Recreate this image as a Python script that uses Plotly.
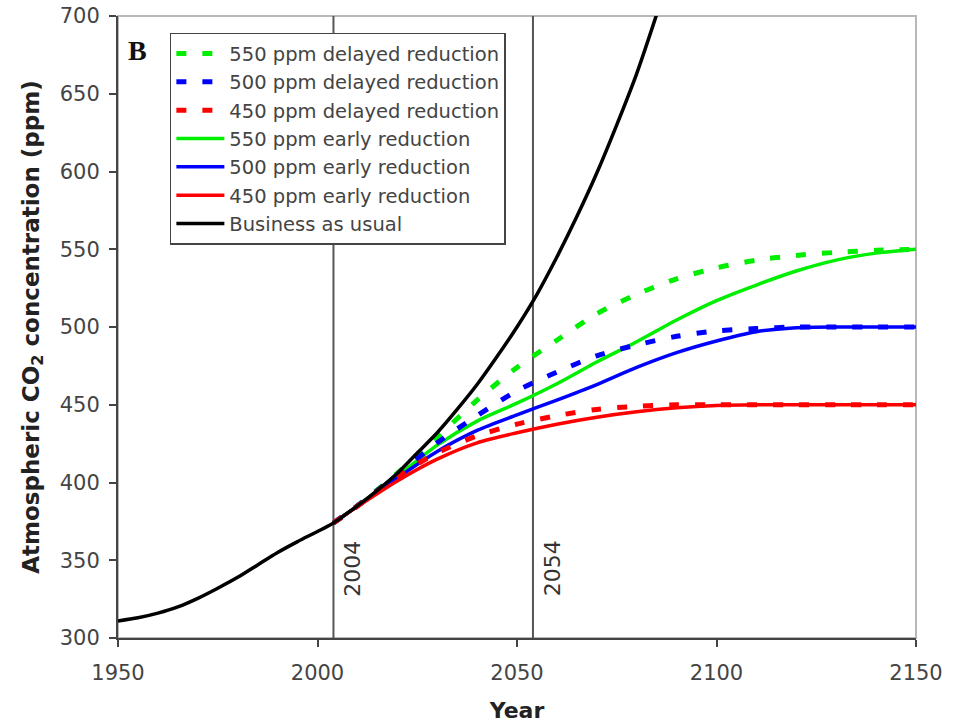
import plotly.graph_objects as go

# ---- data ----
bau_years = [1950, 1955, 1960, 1965, 1970, 1975, 1980, 1985, 1990, 1995, 2000, 2004,
             2010, 2015, 2020, 2025, 2030, 2035, 2040, 2045, 2050, 2055, 2060, 2065,
             2070, 2075, 2080, 2085, 2090]
bau_ppm = [311, 313, 316, 320, 325.5, 332, 339, 347, 355, 362, 368.5, 374,
           385, 395, 406, 419, 432, 447, 463, 481, 500, 521, 545, 571,
           599, 630, 663, 701, 741]

scen_years = [2004, 2010, 2020, 2030, 2040, 2050, 2060, 2070, 2080, 2090, 2100,
              2110, 2120, 2130, 2140, 2150]
red_early = [374, 384.5, 401, 415, 425.5, 432, 437.5, 442, 445.5, 448, 449.5, 450, 450, 450, 450, 450]
red_delayed = [374, 384.8, 404, 419, 430, 437.5, 443, 447, 449, 450, 450, 450, 450, 450, 450, 450]
blue_early = [374, 384.8, 403, 420, 433.5, 443.5, 453, 463, 474, 483.5, 491, 497, 499.5, 500, 500, 500]
blue_delayed = [374, 385, 405, 425.5, 443, 459, 471, 481.5, 488.5, 494, 497.5, 499, 500, 500, 500, 500]
green_early = [374, 385, 404, 424, 439.5, 451, 463.5, 477.5, 490.5, 504.5, 517, 527, 536, 543, 547.5, 550]
green_delayed = [374, 385, 406, 429, 453, 474, 491.5, 508.5, 521, 531, 538, 543, 546, 548, 549.3, 550]

marker_years = [2004, 2054]
x_ticks = [1950, 2000, 2050, 2100, 2150]
y_ticks = [300, 350, 400, 450, 500, 550, 600, 650, 700]

GREEN, BLUE, RED = "#00ee00", "#0000ff", "#ff0000"
DASH = "10px,16px"

fig = go.Figure()

def add(x, y, name, color, dash, width, rank):
    fig.add_trace(go.Scatter(
        x=x, y=y, name=name, mode="lines",
        line=dict(color=color, width=width, dash=dash, shape="spline", smoothing=0.8),
        legendrank=rank))

add(scen_years, green_early, "550 ppm early reduction", GREEN, "solid", 3.5, 4)
add(scen_years, blue_early, "500 ppm early reduction", BLUE, "solid", 3.5, 5)
add(scen_years, red_early, "450 ppm early reduction", RED, "solid", 3.5, 6)
add(scen_years, green_delayed, "550 ppm delayed reduction", GREEN, DASH, 5, 1)
add(scen_years, blue_delayed, "500 ppm delayed reduction", BLUE, DASH, 5, 2)
add(scen_years, red_delayed, "450 ppm delayed reduction", RED, DASH, 5, 3)
add(bau_years, bau_ppm, "Business as usual", "#000000", "solid", 3.5, 7)

shapes = [dict(type="rect", xref="paper", yref="paper", x0=0, x1=1, y0=0, y1=1,
               line=dict(color="#b8b8b8", width=2), layer="below")]
for yr in marker_years:
    shapes.append(dict(type="line", xref="x", yref="paper", x0=yr, x1=yr, y0=0, y1=1,
                       line=dict(color="#555555", width=2), layer="below"))

annotations = [dict(text="<b>B</b>", xref="paper", yref="paper", x=0.024, y=0.945,
                    xanchor="center", yanchor="middle",
                    showarrow=False, font=dict(family="Liberation Serif", size=28, color="#111"))]
for yr in marker_years:
    annotations.append(dict(text=str(yr), xref="x", yref="paper", x=yr, y=0.112,
                            xanchor="center", yanchor="middle",
                            xshift=19, showarrow=False, textangle=-90,
                            font=dict(family="DejaVu Sans", size=22, color="#333")))

fig.update_layout(
    width=959, height=723,
    margin=dict(l=118, r=43, t=16, b=85, autoexpand=False),
    paper_bgcolor="white", plot_bgcolor="white",
    font=dict(family="DejaVu Sans", color="#444"),
    shapes=shapes, annotations=annotations,
    legend=dict(x=0.065, y=0.973, xanchor="left", yanchor="top",
                bgcolor="white", bordercolor="#444", borderwidth=1.5,
                font=dict(size=19.5, color="#444"), tracegroupgap=0,
                itemwidth=48, traceorder="normal"),
    xaxis=dict(range=[1950, 2150], tickvals=x_ticks, showgrid=False, zeroline=False,
               showline=True, linecolor="#444", linewidth=2, ticks="outside",
               ticklen=7, tickwidth=2, tickcolor="#444", ticklabelstandoff=8,
               tickfont=dict(size=21, color="#444"),
               title=dict(text="<b>Year</b>", font=dict(size=22, color="#222"), standoff=22)),
    yaxis=dict(range=[300, 700], tickvals=y_ticks, showgrid=False, zeroline=False,
               showline=True, linecolor="#444", linewidth=2, ticks="outside",
               ticklen=7, tickwidth=2, tickcolor="#444", ticklabelstandoff=5,
               tickfont=dict(size=21, color="#444"),
               title=dict(text="<b>Atmospheric CO<sub>2</sub> concentration (ppm)</b>",
                          font=dict(size=23, color="#222"), standoff=14)),
)

fig.write_html("out.html")
